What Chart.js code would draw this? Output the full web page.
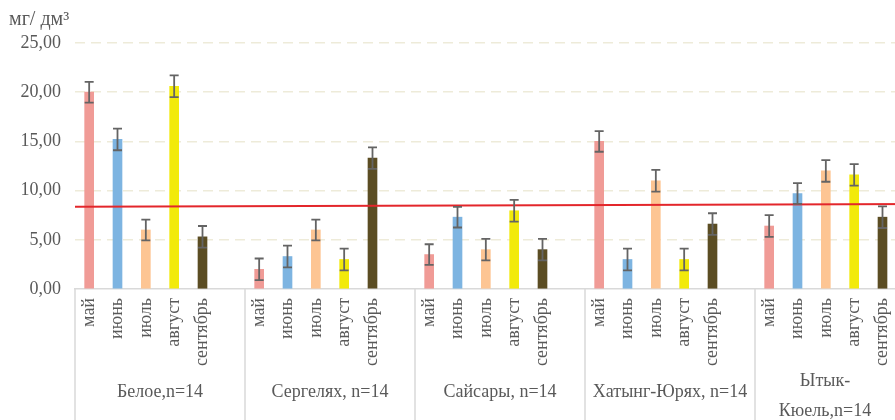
<!DOCTYPE html>
<html>
<head>
<meta charset="utf-8">
<script src="https://cdn.jsdelivr.net/npm/chart.js@4"></script>
<style>
  html, body { margin: 0; padding: 0; background: #fff; overflow: hidden; }
  #wrap { width: 895px; height: 420px; overflow: hidden; }
</style>
</head>
<body>
<div id="wrap"><canvas id="chart" width="930" height="420"></canvas></div>
<script>
const months = ['май', 'июнь', 'июль', 'август', 'сентябрь']
const groups = [['Белое,n=14'], ['Сергелях, n=14'], ['Сайсары, n=14'], ['Хатынг-Юрях, n=14'], ['Ытык-', 'Кюель,n=14']]

const beloe = [20.0, 15.2, 6.0, 20.6, 5.3]
const sergelyah = [2.0, 3.3, 6.0, 3.0, 13.3]
const saisary = [3.5, 7.3, 4.0, 7.95, 4.0]
const khatyng = [15.0, 3.0, 11.0, 3.0, 6.6]
const ytyk = [6.4, 9.7, 12.0, 11.6, 7.3]
const errors = [
    1.05, 1.1, 1.05, 1.1, 1.1,
    1.1, 1.1, 1.05, 1.1, 1.1,
    1.05, 1.05, 1.1, 1.1, 1.1,
    1.05, 1.1, 1.1, 1.1, 1.1,
    1.1, 1.05, 1.1, 1.1, 1.1
]
const trend = [8.35, 8.63]   // red line, left end / right end
const yTicks = [0, 5, 10, 15, 20, 25]

const monthColors = ['#F09B96', '#7DB4E1', '#FDC593', '#F2EA0A', '#5B4D23']
const VISIBLE_W = 895
const SERIF = '"Liberation Serif", "Times New Roman", serif'

// 6 slots per group, the 6th one is empty (as in the source chart)
let labels = []
let values = []
let colors = []
let errs = []
;[beloe, sergelyah, saisary, khatyng, ytyk].forEach((arr, g) => {
    arr.forEach((v, m) => {
        labels.push(months[m])
        values.push(v)
        colors.push(monthColors[m])
        errs.push(errors[g * 5 + m])
    })
    labels.push('')
    values.push(null)
    colors.push('transparent')
    errs.push(null)
})

const errorBars = {
    id: 'errorBars',
    afterDatasetsDraw(chart) {
        const ctx = chart.ctx
        const y = chart.scales.y
        const meta = chart.getDatasetMeta(1)
        ctx.save()
        ctx.strokeStyle = '#646464'
        ctx.lineWidth = 1.8
        meta.data.forEach((bar, i) => {
            if (values[i] == null) return
            const top = y.getPixelForValue(values[i] + errs[i])
            const bot = y.getPixelForValue(values[i] - errs[i])
            const x = bar.x
            ctx.beginPath()
            ctx.moveTo(x, top); ctx.lineTo(x, bot)
            ctx.moveTo(x - 4.5, top); ctx.lineTo(x + 4.5, top)
            ctx.moveTo(x - 4.5, bot); ctx.lineTo(x + 4.5, bot)
            ctx.stroke()
        })
        ctx.restore()
    }
}

const groupAxis = {
    id: 'groupAxis',
    afterDraw(chart) {
        const ctx = chart.ctx
        const x = chart.scales.x
        const area = chart.chartArea
        const slot = x.getPixelForValue(1) - x.getPixelForValue(0)
        ctx.save()
        ctx.strokeStyle = '#D9D9D9'
        ctx.lineWidth = 1.5
        ctx.fillStyle = '#595959'
        ctx.font = '18px ' + SERIF
        ctx.textAlign = 'center'
        ctx.textBaseline = 'middle'
        groups.forEach((lines, g) => {
            const left = x.getPixelForValue(g * 6) - slot / 2
            const right = left + slot * 6
            ctx.beginPath()
            ctx.moveTo(left, area.bottom)
            ctx.lineTo(left, chart.height)
            ctx.stroke()
            const cx = (left + Math.min(right, VISIBLE_W)) / 2
            if (lines.length === 1) {
                ctx.fillText(lines[0], cx, 392)
            } else {
                lines.forEach((t, k) => ctx.fillText(t, cx, 381 + k * 30))
            }
        })
        // title
        ctx.textAlign = 'left'
        ctx.textBaseline = 'alphabetic'
        ctx.font = '20px ' + SERIF
        ctx.fillText('мг/ дм³', 9, 25)
        ctx.restore()
    }
}

new Chart(document.getElementById('chart'), {
    type: 'bar',
    data: {
        labels: labels,
        datasets: [{
            type: 'line',
            data: [{ x: 0, y: trend[0] }, { x: 1, y: trend[1] }],
            xAxisID: 'x2',
            borderColor: '#E3262B',
            borderWidth: 2,
            pointRadius: 0,
            fill: false
        }, {
            data: values,
            backgroundColor: colors,
            grouped: false,
            barThickness: 9
        }]
    },
    options: {
        responsive: false,
        animation: false,
        layout: { padding: { top: 43, right: 5, left: 0, bottom: 0 } },
        plugins: {
            legend: { display: false },
            tooltip: { enabled: false }
        },
        scales: {
            x: {
                grid: { display: false, drawTicks: false },
                border: { color: '#D9D9D9', width: 1.5 },
                ticks: {
                    autoSkip: false,
                    minRotation: 90,
                    maxRotation: 90,
                    padding: 9,
                    color: '#595959',
                    font: { family: SERIF, size: 18 }
                },
                afterFit(scale) {
                    scale.height = 131
                    scale.paddingLeft = 0
                    scale.paddingRight = 0
                }
            },
            x2: {
                type: 'linear',
                display: false,
                offset: false,
                min: 0,
                max: 1
            },
            y: {
                min: 0,
                max: 25,
                afterBuildTicks(scale) { scale.ticks = yTicks.map(v => ({ value: v })) },
                border: { display: false, dash: [10, 6] },
                grid: {
                    drawTicks: false,
                    color: ctx => ctx.tick.value === 0 ? 'transparent' : '#EEEBD9',
                    lineWidth: 1.5
                },
                ticks: {
                    padding: 14,
                    color: '#595959',
                    font: { family: SERIF, size: 18 },
                    callback: v => v.toFixed(2).replace('.', ',')
                },
                afterFit(scale) { scale.width = 75 }
            }
        }
    },
    plugins: [errorBars, groupAxis]
})
</script>
</body>
</html>
